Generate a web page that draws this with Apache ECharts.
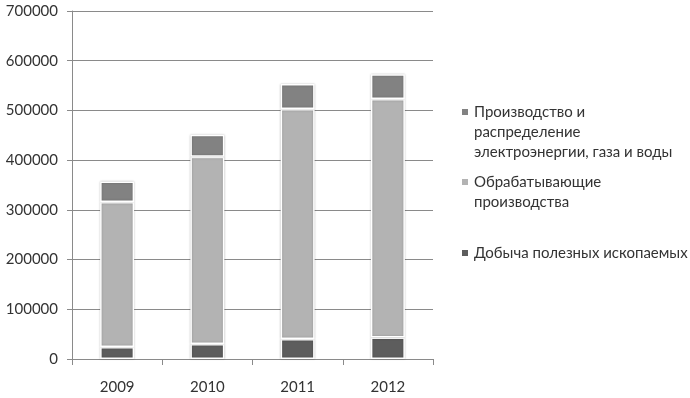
<!DOCTYPE html>
<html><head><meta charset="utf-8">
<script src="https://cdn.jsdelivr.net/npm/echarts@6/dist/echarts.min.js"></script>
<style>html,body{margin:0;padding:0;background:#fff}#c{width:690px;height:398px}</style>
</head><body><div id="c"></div>
<script>
const years = ['2009', '2010', '2011', '2012'];
const mining = [24000, 30000, 40000, 43000];
const manufacturing = [292000, 377000, 463000, 480000];
const utilities = [41000, 44000, 50000, 50000];
const yTicks = [0, 100000, 200000, 300000, 400000, 500000, 600000, 700000];

const nameMining = 'Добыча полезных ископаемых';
const nameManuf = 'Обрабатывающие\nпроизводства';
const nameUtil = 'Производство и\nраспределение\nэлектроэнергии, газа и воды';

const FONT = 'Lato';
const itemBase = { borderColor: '#ffffff', borderWidth: 1.5, shadowColor: 'rgba(0,0,0,0.25)', shadowBlur: 2 };
const legendText = { fontFamily: FONT, fontSize: 15, color: '#333', lineHeight: 20 };

const chart = echarts.init(document.getElementById('c'), null, { renderer: 'canvas' });
chart.setOption({
  backgroundColor: '#fff',
  animation: false,
  grid: { left: 72, right: 257, top: 11, bottom: 39 },
  legend: [
    { data: [nameUtil], left: 455, top: 97, itemWidth: 8, itemHeight: 48,
      icon: 'path://M0,0h8v8h-8zM0,48', textStyle: legendText },
    { data: [nameManuf], left: 455, top: 167, itemWidth: 8, itemHeight: 28,
      icon: 'path://M0,0h8v8h-8zM0,28', textStyle: legendText },
    { data: [nameMining], left: 455, top: 238, itemWidth: 8, itemHeight: 8,
      icon: 'rect', textStyle: legendText }
  ],
  xAxis: {
    type: 'category', data: years,
    axisLine: { lineStyle: { color: '#8a8a8a', width: 1 } },
    axisTick: { show: true, length: 6, alignWithLabel: false, lineStyle: { color: '#8a8a8a' } },
    axisLabel: { fontFamily: FONT, fontSize: 15, color: '#333', margin: 21 }
  },
  yAxis: {
    type: 'value', min: yTicks[0], max: yTicks[yTicks.length - 1], interval: 100000,
    axisLine: { show: true, lineStyle: { color: '#8a8a8a', width: 1 } },
    axisTick: { show: true, length: 5, lineStyle: { color: '#8a8a8a' } },
    splitLine: { lineStyle: { color: '#8a8a8a', width: 1 } },
    axisLabel: { fontFamily: FONT, fontSize: 15, color: '#333', margin: 14, formatter: v => String(v) }
  },
  series: [
    { name: nameMining, type: 'bar', stack: 'a', data: mining, barWidth: 34,
      itemStyle: Object.assign({ color: '#5d5d5d' }, itemBase) },
    { name: nameManuf, type: 'bar', stack: 'a', data: manufacturing, barWidth: 34,
      itemStyle: Object.assign({ color: '#b3b3b3' }, itemBase) },
    { name: nameUtil, type: 'bar', stack: 'a', data: utilities, barWidth: 34,
      itemStyle: Object.assign({ color: '#828282' }, itemBase) }
  ]
});
</script></body></html>
